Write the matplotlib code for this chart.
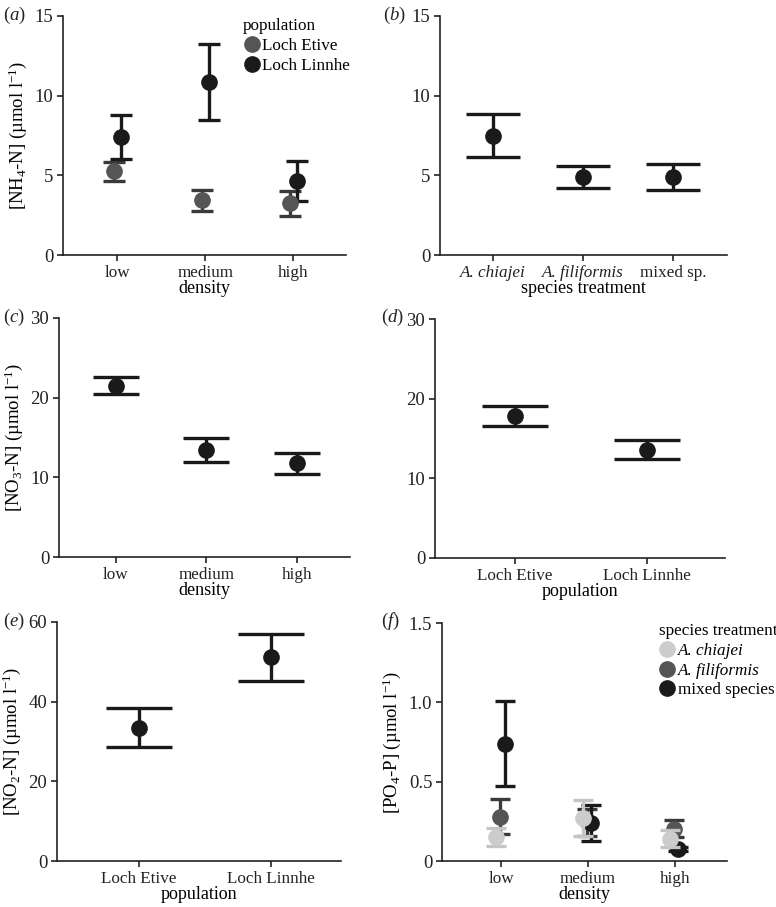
import matplotlib
matplotlib.use('Agg')
import matplotlib.pyplot as plt
import numpy as np

plt.rcParams['font.family'] = ['Liberation Serif', 'DejaVu Serif']
plt.rcParams['mathtext.fontset'] = 'custom'
plt.rcParams['mathtext.rm'] = 'Liberation Serif'
plt.rcParams['mathtext.it'] = 'Liberation Serif:italic'
plt.rcParams['font.size'] = 12.5

# data: mean, upper, lower
density = ['low', 'medium', 'high']
populations = ['Loch Etive', 'Loch Linnhe']
species = ['A. chiajei', 'A. filiformis', 'mixed sp.']
species_leg = ['A. chiajei', 'A. filiformis', 'mixed species']

# (a) NH4 by density x population
nh4_etive = [5.27, 3.45, 3.24]
nh4_etive_hi = [5.84, 4.07, 4.00]
nh4_etive_lo = [4.64, 2.75, 2.45]
nh4_linnhe = [7.40, 10.88, 4.64]
nh4_linnhe_hi = [8.80, 13.27, 5.92]
nh4_linnhe_lo = [6.03, 8.47, 3.39]

# (b) NH4 by species
nh4_sp = [7.49, 4.90, 4.90]
nh4_sp_hi = [8.83, 5.60, 5.71]
nh4_sp_lo = [6.13, 4.20, 4.06]

# (c) NO3 by density
no3_den = [21.5, 13.4, 11.8]
no3_den_hi = [22.6, 15.0, 13.1]
no3_den_lo = [20.4, 11.9, 10.45]

# (d) NO3 by population
no3_pop = [17.8, 13.6]
no3_pop_hi = [19.06, 14.8]
no3_pop_lo = [16.6, 12.4]

# (e) NO2 by population
no2_pop = [33.4, 51.1]
no2_pop_hi = [38.3, 56.9]
no2_pop_lo = [28.7, 45.3]

# (f) PO4 by density x species
po4_chi = [0.149, 0.27, 0.14]
po4_chi_hi = [0.21, 0.384, 0.195]
po4_chi_lo = [0.096, 0.16, 0.09]
po4_fil = [0.277, 0.25, 0.203]
po4_fil_hi = [0.388, 0.33, 0.26]
po4_fil_lo = [0.17, 0.16, 0.15]
po4_mix = [0.736, 0.24, 0.074]
po4_mix_hi = [1.007, 0.35, 0.09]
po4_mix_lo = [0.474, 0.128, 0.06]

W, H = 776, 907
fig = plt.figure(figsize=(W / 100, H / 100), dpi=100)

FS = 12.3   # tick labels / legend
LFS = 13    # axis labels


def make_ax(x0, x1, ytop, ybot):
    ax = fig.add_axes([x0 / W, 1 - ybot / H, (x1 - x0) / W, (ybot - ytop) / H])
    ax.spines['top'].set_visible(False)
    ax.spines['right'].set_visible(False)
    for s in ['left', 'bottom']:
        ax.spines[s].set_linewidth(1.2)
        ax.spines[s].set_color('#222222')
    ax.tick_params(direction='out', length=4, width=1.2, colors='#222222',
                   labelsize=FS, labelcolor='#222222')
    ax.tick_params(axis='x', pad=3.5)
    ax.tick_params(axis='y', labelsize=13.5, pad=3)
    return ax


def points(ax, x, m, hi, lo, color, ecolor, cap, zorder=3, ms=11):
    m = np.array(m)
    err = [m - np.array(lo), np.array(hi) - m]
    ax.errorbar(x, m, yerr=err, fmt='o', color=color, ecolor=ecolor,
                mec=color, ms=ms, elinewidth=2.4, capsize=cap,
                capthick=2.4, zorder=zorder)


def label(ax, letter, x, y):
    fig.text(x / W, 1 - y / H, '($\\mathit{' + letter + '}$)', fontsize=13.5,
             ha='left', va='center', color='#222222')


def legend(ax, handles, names, title, anchor):
    leg = ax.legend(handles, names, title=title, frameon=False,
                    loc='upper left', bbox_to_anchor=anchor, handletextpad=0.1,
                    handlelength=1.0, fontsize=FS, title_fontsize=FS,
                    labelspacing=0.22, borderaxespad=0, borderpad=0)
    leg._legend_box.align = 'left'
    return leg


grey = '#555555'
black = '#1a1a1a'

# (a)
ax = make_ax(63, 346, 16, 255)
x = np.arange(3)
points(ax, x - 0.04, nh4_etive, nh4_etive_hi, nh4_etive_lo, grey, '#3a3a3a', 8)
points(ax, x + 0.04, nh4_linnhe, nh4_linnhe_hi, nh4_linnhe_lo, black, black, 8)
ax.set_xlim(-0.62, 2.6)
ax.set_ylim(0, 15)
ax.set_yticks([0, 5, 10, 15])
ax.set_xticks(x)
ax.set_xticklabels(density)
ax.set_xlabel('density', fontsize=LFS, labelpad=-1)
ax.set_ylabel('[NH$_4$-N] (µmol l$^{-1}$)', fontsize=LFS + 0.5, labelpad=4)
h1 = ax.plot([], [], 'o', color=grey, ms=11)[0]
h2 = ax.plot([], [], 'o', color=black, ms=11)[0]
legend(ax, [h1, h2], populations, 'population', (0.636, 0.99))
label(ax, 'a', 3, 15)

# (b)
ax = make_ax(440, 727, 16, 255)
points(ax, x, nh4_sp, nh4_sp_hi, nh4_sp_lo, black, black, 19.5)
ax.set_xlim(-0.59, 2.6)
ax.set_ylim(0, 15)
ax.set_yticks([0, 5, 10, 15])
ax.set_xticks(x)
ax.set_xticklabels(species)
for t in ax.get_xticklabels()[:2]:
    t.set_fontstyle('italic')
ax.set_xlabel('species treatment', fontsize=LFS, labelpad=-1)
label(ax, 'b', 383, 15)

# (c)
ax = make_ax(59, 350, 318, 557)
points(ax, x, no3_den, no3_den_hi, no3_den_lo, black, black, 16.5)
ax.set_xlim(-0.63, 2.59)
ax.set_ylim(0, 30)
ax.set_yticks([0, 10, 20, 30])
ax.set_xticks(x)
ax.set_xticklabels(density)
ax.set_xlabel('density', fontsize=LFS, labelpad=-1)
ax.set_ylabel('[NO$_3$-N] (µmol l$^{-1}$)', fontsize=LFS + 0.5, labelpad=4)
label(ax, 'c', 3, 317)

# (d)
ax = make_ax(435, 725, 319, 558)
x2 = np.arange(2)
points(ax, x2, no3_pop, no3_pop_hi, no3_pop_lo, black, black, 23.5)
ax.set_xlim(-0.606, 1.59)
ax.set_ylim(0, 30)
ax.set_yticks([0, 10, 20, 30])
ax.set_xticks(x2)
ax.set_xticklabels(populations)
ax.set_xlabel('population', fontsize=LFS, labelpad=-1)
label(ax, 'd', 381, 317)

# (e)
ax = make_ax(57, 341, 622, 861)
points(ax, x2, no2_pop, no2_pop_hi, no2_pop_lo, black, black, 23.5)
ax.set_xlim(-0.62, 1.53)
ax.set_ylim(0, 60)
ax.set_yticks([0, 20, 40, 60])
ax.set_xticks(x2)
ax.set_xticklabels(populations)
ax.set_xlabel('population', fontsize=LFS, labelpad=-1)
ax.set_ylabel('[NO$_2$-N] (µmol l$^{-1}$)', fontsize=LFS + 0.5, labelpad=4)
label(ax, 'e', 3, 621)

# (f)
ax = make_ax(442, 727, 623, 861)
points(ax, x - 0.01, po4_fil, po4_fil_hi, po4_fil_lo, grey, '#3a3a3a', 7, zorder=3)
points(ax, x + 0.04, po4_mix, po4_mix_hi, po4_mix_lo, black, black, 7, zorder=4)
points(ax, x - 0.06, po4_chi, po4_chi_hi, po4_chi_lo, '#cccccc', '#c4c4c4', 7, zorder=5)
ax.set_xlim(-0.68, 2.6)
ax.set_ylim(0, 1.5)
ax.set_yticks([0, 0.5, 1.0, 1.5])
ax.set_yticklabels(['0', '0.5', '1.0', '1.5'])
ax.set_xticks(x)
ax.set_xticklabels(density)
ax.set_xlabel('density', fontsize=LFS, labelpad=-1)
ax.set_ylabel('[PO$_4$-P] (µmol l$^{-1}$)', fontsize=LFS + 0.5, labelpad=4)
hs = [ax.plot([], [], 'o', color=c, ms=11)[0] for c in ['#cccccc', grey, black]]
leg = legend(ax, hs, species_leg, 'species treatment', (0.761, 1.0))
for t in leg.get_texts()[:2]:
    t.set_fontstyle('italic')
label(ax, 'f', 381, 621)

fig.savefig('out.png', dpi=100)
